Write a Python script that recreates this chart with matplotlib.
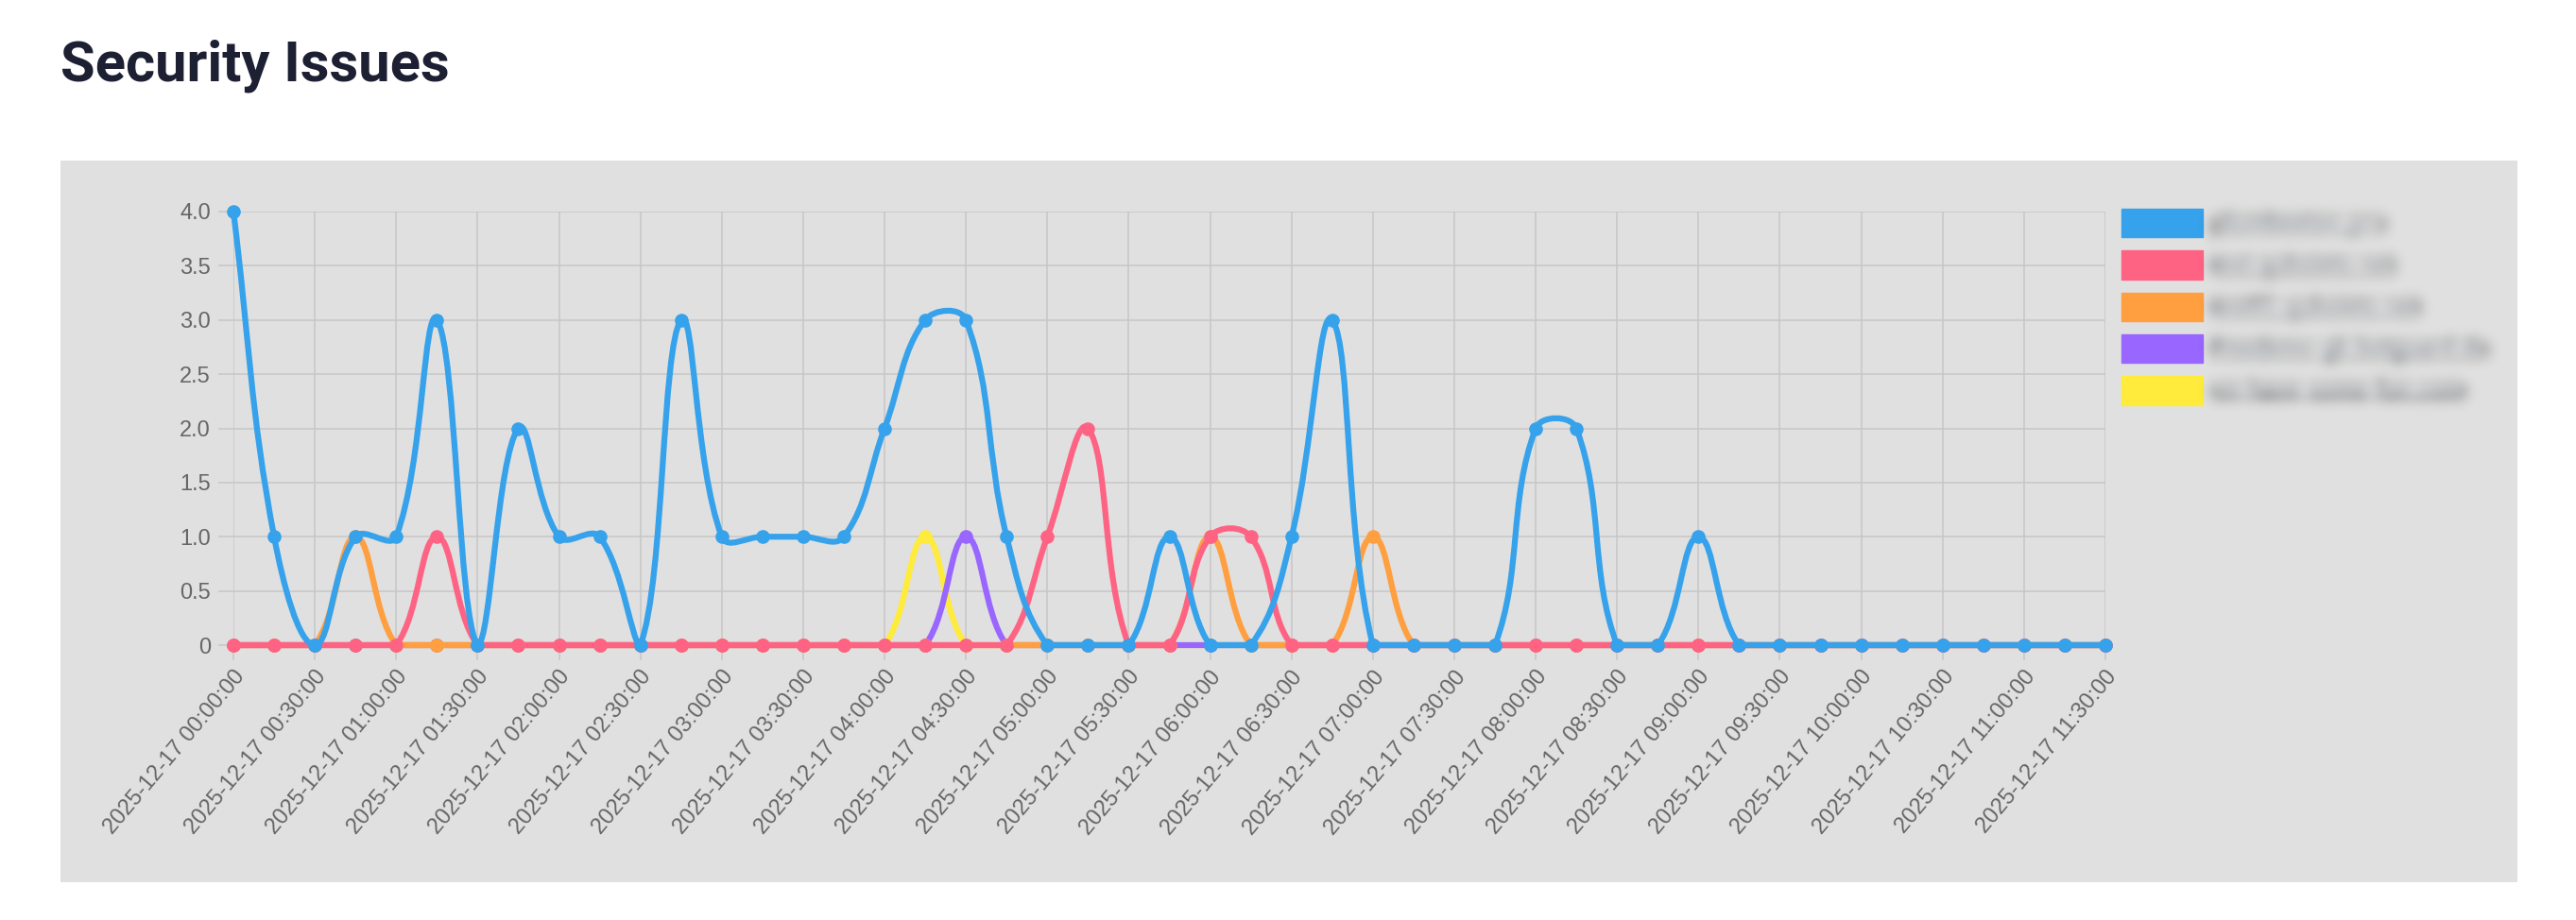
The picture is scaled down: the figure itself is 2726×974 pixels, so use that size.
import numpy as np
import pandas as pd
import matplotlib
matplotlib.use("Agg")
import matplotlib.pyplot as plt
import matplotlib.patches as mpatches
from matplotlib.path import Path
from matplotlib.transforms import ScaledTranslation

# data: one point every 15 minutes
times = pd.date_range("2025-12-17 00:00:00", periods=47, freq="15min")
tick_labels = [t.strftime("%Y-%m-%d %H:%M:%S") for t in times]

hosts = ["plumbeeton.pro", "test.quksieto.net", "test01.quksieto.net",
         "freedemo-gk.botguard.de", "on-have-some-fun.com"]
colors = ["#36A2EB", "#FF6384", "#FF9F40", "#9966FF", "#FFEB3B"]

plumbeeton = [4, 1, 0, 1, 1, 3, 0, 2, 1, 1, 0, 3, 1, 1, 1, 1, 2, 3, 3, 1, 0, 0, 0, 1,
              0, 0, 1, 3, 0, 0, 0, 0, 2, 2, 0, 0, 1, 0, 0, 0, 0, 0, 0, 0, 0, 0, 0]
test_q = [0, 0, 0, 0, 0, 1, 0, 0, 0, 0, 0, 0, 0, 0, 0, 0, 0, 0, 0, 0, 1, 2, 0, 0,
          1, 1, 0, 0, 0, 0, 0, 0, 0, 0, 0, 0, 0, 0, 0, 0, 0, 0, 0, 0, 0, 0, 0]
test01_q = [0, 0, 0, 1, 0, 0, 0, 0, 0, 0, 0, 0, 0, 0, 0, 0, 0, 0, 0, 0, 0, 0, 0, 0,
            1, 0, 0, 0, 1, 0, 0, 0, 0, 0, 0, 0, 0, 0, 0, 0, 0, 0, 0, 0, 0, 0, 0]
freedemo = [0, 0, 0, 0, 0, 0, 0, 0, 0, 0, 0, 0, 0, 0, 0, 0, 0, 0, 1, 0, 0, 0, 0, 0,
            0, 0, 0, 0, 0, 0, 0, 0, 0, 0, 0, 0, 0, 0, 0, 0, 0, 0, 0, 0, 0, 0, 0]
havefun = [0, 0, 0, 0, 0, 0, 0, 0, 0, 0, 0, 0, 0, 0, 0, 0, 0, 1, 0, 0, 0, 0, 0, 0,
           0, 0, 0, 0, 0, 0, 0, 0, 0, 0, 0, 0, 0, 0, 0, 0, 0, 0, 0, 0, 0, 0, 0]
series = [plumbeeton, test_q, test01_q, freedemo, havefun]

W, H = 2726, 974
fig = plt.figure(figsize=(W / 100, H / 100), dpi=100)
fig.patch.set_facecolor("white")

# grey card behind the chart
fig.patches.append(mpatches.Rectangle((64 / W, 1 - 934 / H), 2600 / W, 764 / H,
                                      transform=fig.transFigure, facecolor="#e0e0e0",
                                      edgecolor="none", zorder=-5))

fig.text(64 / W, 1 - 85 / H, "Security Issues", fontsize=43, fontweight="bold",
         color="#1d1f33", family=["Roboto", "DejaVu Sans"], va="baseline")

ax = fig.add_axes([247 / W, 1 - 683 / H, (2228 - 247) / W, (683 - 224) / H])
ax.set_facecolor("none")
x = np.arange(len(times))
ax.set_xlim(0, len(times) - 1)
ax.set_ylim(0, 4)
for s in ax.spines.values():
    s.set_visible(False)

grid_c = "#c6c6c6"
ax.set_axisbelow(True)
ax.grid(True, color=grid_c, lw=1.1)
ax.set_yticks(np.arange(0, 4.01, 0.5))
ax.set_yticklabels(["0"] + ["%.1f" % v for v in np.arange(0.5, 4.01, 0.5)])
ax.set_xticks(x[::2])
ax.set_xticklabels(tick_labels[::2])
ax.tick_params(axis="both", length=11.5, width=1.1, color=grid_c, labelcolor="#666666",
               labelsize=17)
ax.tick_params(axis="y", pad=5.8)
ax.tick_params(axis="x", pad=10)
for lab in ax.get_xticklabels():
    lab.set_family(["Liberation Sans", "DejaVu Sans"])
    lab.set_rotation(50)
    lab.set_ha("right")
    lab.set_va("center")
    lab.set_rotation_mode("anchor")
    lab.set_transform(lab.get_transform() + ScaledTranslation(0.08, 0, fig.dpi_scale_trans))
for lab in ax.get_yticklabels():
    lab.set_family(["Liberation Sans", "DejaVu Sans"])


def spline(xs, ys, tension=0.4):
    # Chart.js style cubic curve, computed in pixel space
    pts = ax.transData.transform(np.column_stack([xs, ys]).astype(float))
    lo = ax.transData.transform((xs[0], 0))
    hi = ax.transData.transform((xs[-1], 4))
    n = len(pts)
    cprev = np.zeros_like(pts)
    cnext = np.zeros_like(pts)
    for i in range(n):
        p = pts[max(i - 1, 0)]
        c = pts[i]
        q = pts[min(i + 1, n - 1)]
        d01 = np.hypot(*(c - p))
        d12 = np.hypot(*(q - c))
        tot = d01 + d12
        s01 = d01 / tot if tot else 0
        s12 = d12 / tot if tot else 0
        cprev[i] = c - tension * s01 * (q - p)
        cnext[i] = c + tension * s12 * (q - p)
    for arr in (cprev, cnext):
        arr[:, 0] = np.clip(arr[:, 0], lo[0], hi[0])
        arr[:, 1] = np.clip(arr[:, 1], lo[1], hi[1])
    verts = [pts[0]]
    codes = [Path.MOVETO]
    for i in range(1, n):
        verts += [cnext[i - 1], cprev[i], pts[i]]
        codes += [Path.CURVE4] * 3
    verts = ax.transData.inverted().transform(np.array(verts))
    return Path(verts, codes)


for k in range(len(series) - 1, -1, -1):
    z = 10 - 2 * k
    c = colors[k]
    patch = mpatches.PathPatch(spline(x, series[k]), fill=False, edgecolor=c, lw=4.5,
                               joinstyle="round", capstyle="butt", zorder=z, clip_on=False)
    ax.add_patch(patch)
    ax.plot(x, series[k], "o", ms=9.5, color=c, mec=c, mew=1, zorder=z + 0.5,
            clip_on=False)


def blur(sigma):
    def f(im, dpi):
        pad = int(3 * sigma) + 1
        out = np.pad(im, ((pad, pad), (pad, pad), (0, 0)))
        r = np.arange(-pad, pad + 1)
        kern = np.exp(-r ** 2 / (2 * sigma ** 2))
        kern /= kern.sum()
        for axis in (0, 1):
            acc = np.zeros_like(out)
            for off, w in zip(r, kern):
                acc += w * np.roll(out, off, axis=axis)
            out = acc
        return out, -pad, -pad
    return f


handles = [mpatches.Patch(facecolor=c, edgecolor=c, lw=1) for c in colors]
leg = ax.legend(handles, hosts, loc="upper left", bbox_to_anchor=(2245 / W, 1 - 221 / H),
                bbox_transform=fig.transFigure, frameon=False, fontsize=17.5,
                handlelength=3.55, handleheight=1.55, labelspacing=0.57,
                handletextpad=0.38, borderpad=0, borderaxespad=0)
for t in leg.get_texts():
    t.set_color("#3c4452")
    t.set_family(["Liberation Sans", "DejaVu Sans"])
    t.set_fontweight("bold")
    t.set_agg_filter(blur(7))

fig.savefig("out.png", dpi=100)
